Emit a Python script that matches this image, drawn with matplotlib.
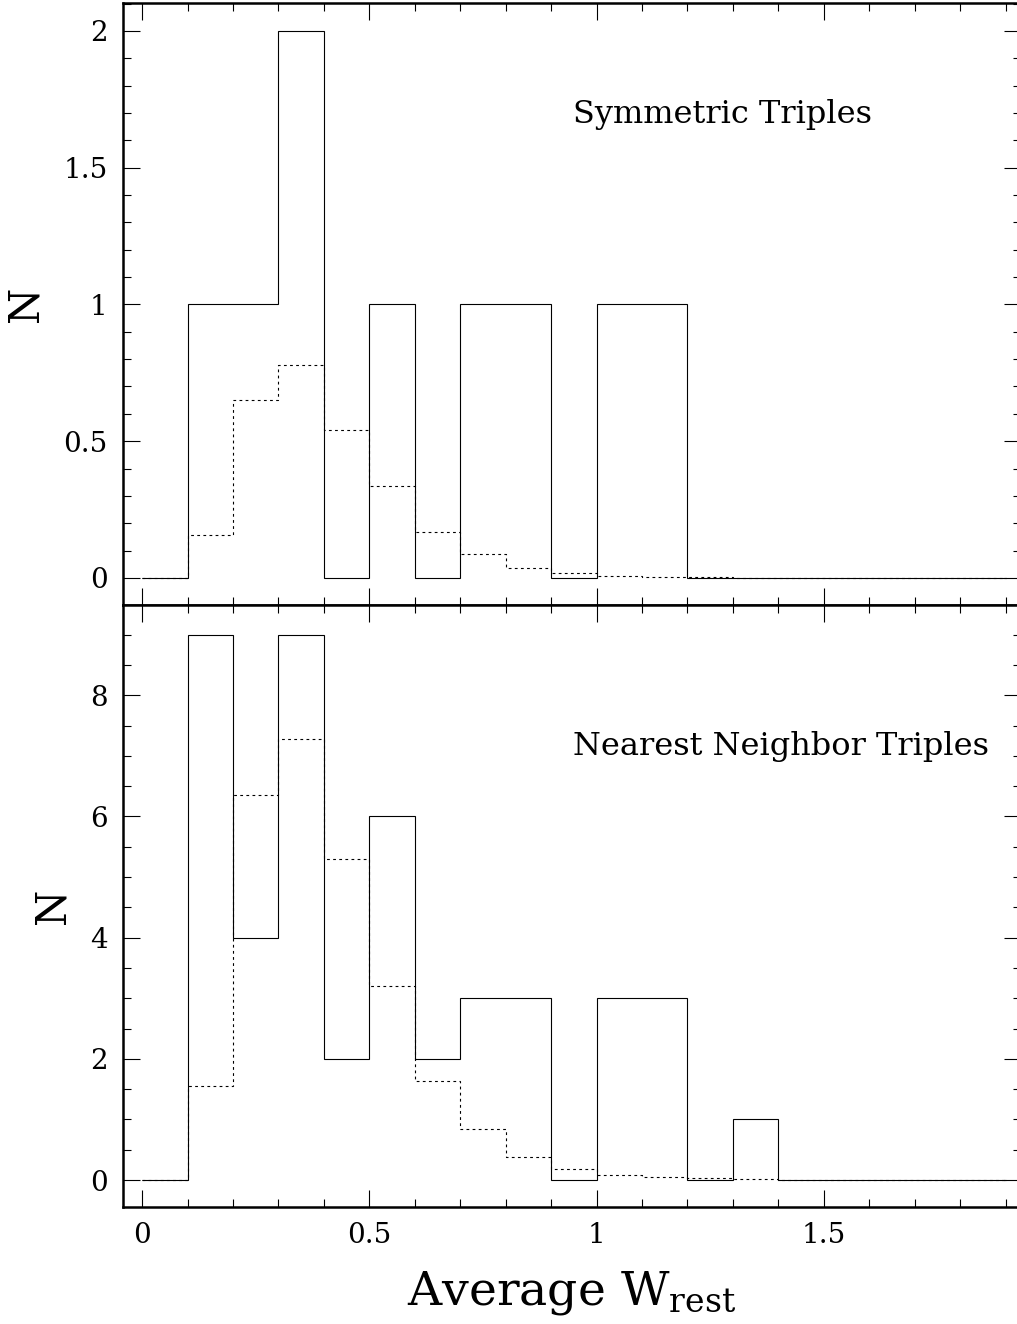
import numpy as np
import matplotlib
matplotlib.use("Agg")
import matplotlib.pyplot as plt
from matplotlib.ticker import MultipleLocator

# bin edges (width 0.1) for both panels
edges = np.round(np.arange(0.0, 1.95, 0.1), 2)

# Symmetric triples: observed counts and expected (dotted)
sym_obs = [0, 1, 1, 2, 0, 1, 0, 1, 1, 0, 1, 1, 0, 0, 0, 0, 0, 0, 0]
sym_exp = [0, 0.156, 0.652, 0.780, 0.542, 0.337, 0.169, 0.087, 0.035, 0.019,
           0.006, 0.004, 0.002, 0.001, 0.001, 0, 0, 0, 0]

# Nearest neighbor triples: observed counts and expected (dotted)
nn_obs = [0, 9, 4, 9, 2, 6, 2, 3, 3, 0, 3, 3, 0, 1, 0, 0, 0, 0, 0]
nn_exp = [0, 1.55, 6.35, 7.28, 5.29, 3.20, 1.63, 0.84, 0.385, 0.19,
          0.088, 0.05, 0.03, 0.015, 0.005, 0, 0, 0, 0]

plt.rcParams['font.family'] = ['DejaVu Serif']
plt.rcParams['mathtext.fontset'] = 'dejavuserif'

fig = plt.figure(figsize=(10.17, 13.24), dpi=100)
W, H = 1017, 1324
left, right = 123 / W, 1021 / W
ax1 = fig.add_axes([left, 1 - 605 / H, right - left, (605 - 3) / H])
ax2 = fig.add_axes([left, 1 - 1207 / H, right - left, (1207 - 605) / H], sharex=ax1)

dots = (0, (2.5, 3))
for ax, obs, exp in [(ax1, sym_obs, sym_exp), (ax2, nn_obs, nn_exp)]:
    ax.stairs(exp, edges, baseline=None, color="black", lw=0.8, linestyle=dots)
    ax.stairs(obs, edges, baseline=None, color="black", lw=0.8)
    for s in ax.spines.values():
        s.set_linewidth(1.8)
    ax.tick_params(which="both", direction="in", top=True, right=True,
                   labelsize=20, pad=11, width=0.8)
    ax.tick_params(which="major", length=12)
    ax.tick_params(which="minor", length=6)
    ax.set_ylabel("N", fontsize=30, labelpad=12)

ax1.set_xlim(-0.042, 1.934)
ax1.xaxis.set_major_locator(MultipleLocator(0.5))
ax1.xaxis.set_minor_locator(MultipleLocator(0.1))
ax1.set_xticks([0, 0.5, 1, 1.5], ["0", "0.5", "1", "1.5"])
ax1.tick_params(labelbottom=False)

ax1.set_ylim(-0.099, 2.102)
ax1.yaxis.set_major_locator(MultipleLocator(0.5))
ax1.yaxis.set_minor_locator(MultipleLocator(0.1))
ax1.set_yticks([0, 0.5, 1, 1.5, 2], ["0", "0.5", "1", "1.5", "2"])

ax2.set_ylim(-0.445, 9.49)
ax2.yaxis.set_major_locator(MultipleLocator(2))
ax2.yaxis.set_minor_locator(MultipleLocator(0.5))

ax1.text(0.949, 1.693, "Symmetric Triples", fontsize=23, va="center")
ax2.text(0.949, 7.16, "Nearest Neighbor Triples", fontsize=23, va="center")

ax2.set_xlabel(r"Average W$_{\rm rest}$", fontsize=34, labelpad=14)

fig.savefig("out.png", dpi=100)
